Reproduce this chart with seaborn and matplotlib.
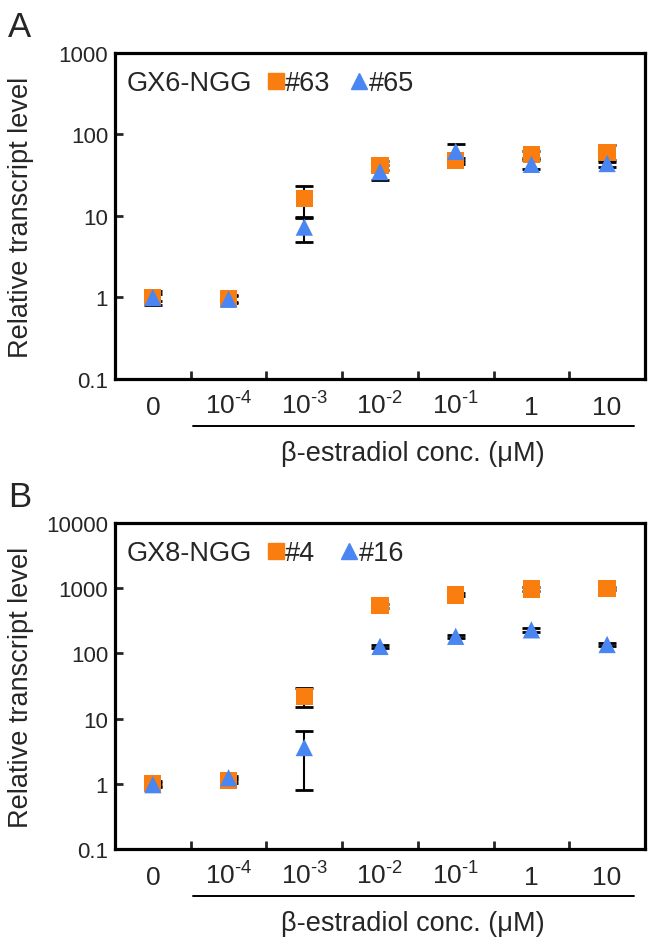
import numpy as np
import pandas as pd
import matplotlib
matplotlib.use("Agg")
import matplotlib.pyplot as plt
import matplotlib.transforms as mtransforms
from matplotlib.ticker import NullLocator
import seaborn as sns

# concentrations (uM) shown as categories
conc_labels = ["0", r"$\mathregular{10^{‐4}}$", r"$\mathregular{10^{‐3}}$",
               r"$\mathregular{10^{‐2}}$", r"$\mathregular{10^{‐1}}$", "1", "10"]

# panel A : GX6-NGG lines #63 and #65 (mean, sd)
gx6_63_mean = [1.0, 0.98, 16.5, 42, 48, 57, 60]
gx6_63_sd = [0.1, 0.1, 7.0, 5, 4, 6, 14]
gx6_65_mean = [1.0, 0.95, 7.3, 35, 62, 43, 44]
gx6_65_sd = [0.2, 0.1, 2.5, 7, 15, 5, 4]

# panel B : GX8-NGG lines #4 and #16 (mean, sd)
gx8_4_mean = [1.0, 1.12, 22, 540, 790, 970, 990]
gx8_4_sd = [0.1, 0.1, 7, 40, 40, 60, 50]
gx8_16_mean = [0.97, 1.24, 3.6, 128, 183, 230, 137]
gx8_16_sd = [0.05, 0.1, 2.8, 8, 10, 15, 5]

ORANGE = "#FA7D0F"
BLUE = "#4A86F2"

sns.set_style("ticks")
plt.rcParams["font.family"] = ["Liberation Sans", "DejaVu Sans"]
plt.rcParams["mathtext.fontset"] = "custom"
plt.rcParams["mathtext.rm"] = "Liberation Sans"
plt.rcParams["mathtext.it"] = "Liberation Sans:italic"
plt.rcParams["mathtext.bf"] = "Liberation Sans:bold"


def draw_panel(ax, construct, lines, means, sds, yticks):
    df = pd.DataFrame({
        "conc": conc_labels * 2,
        "line": [lines[0]] * 7 + [lines[1]] * 7,
        "mean": means[0] + means[1],
        "sd": sds[0] + sds[1],
    })
    for name, sub in df.groupby("line", sort=False):
        ax.errorbar(sub["conc"], sub["mean"], yerr=sub["sd"], fmt="none",
                    ecolor="black", elinewidth=1.5, capsize=6.5, capthick=2,
                    zorder=2)
    sns.scatterplot(data=df, x="conc", y="mean", hue="line", style="line",
                    palette={lines[0]: ORANGE, lines[1]: BLUE},
                    markers={lines[0]: "s", lines[1]: "^"},
                    s=155, linewidth=0, legend=False, zorder=3, ax=ax)

    ax.set_yscale("log")
    ax.set_ylim(yticks[0], yticks[-1])
    ax.set_yticks(yticks, [f"{t:g}" for t in yticks])
    ax.yaxis.set_minor_locator(NullLocator())
    ax.set_xlim(-0.5, 6.5)
    ax.set_xticks(range(7), conc_labels)
    ax.set_xticks(np.arange(0.5, 6, 1), minor=True)

    ax.tick_params(axis="x", which="major", length=0, pad=25, labelsize=19)
    ax.tick_params(axis="x", which="minor", direction="in", length=6,
                   width=2, bottom=True)
    ax.tick_params(axis="y", which="major", direction="in", length=6,
                   width=2, pad=5, labelsize=16)
    for t in ax.get_xticklabels():
        t.set_verticalalignment("baseline")

    for sp in ax.spines.values():
        sp.set_visible(True)
        sp.set_linewidth(2.3)
        sp.set_color("black")

    ax.set_ylabel("Relative transcript level", fontsize=19.5)
    ax.yaxis.set_label_coords(-0.177, 0.5)
    ax.yaxis.label.set_verticalalignment("center")
    ax.set_xlabel("β-estradiol conc. (μM)", fontsize=19.5)
    ax.xaxis.set_label_coords(0.562, -0.227)
    ax.xaxis.label.set_verticalalignment("center")

    # line under the non-zero concentrations
    trans = mtransforms.blended_transform_factory(ax.transData, ax.transAxes)
    ax.plot([0.53, 6.35], [-0.144, -0.144], color="black", lw=1.4,
            transform=trans, clip_on=False)

    # inline key
    ax.text(0.0226, 0.887, construct, transform=ax.transAxes,
            fontsize=19.5, va="baseline")
    ax.plot([0.3038], [0.913], marker="s", ms=12, color=ORANGE, ls="",
            transform=ax.transAxes, clip_on=False)
    ax.text(0.3208, 0.887, lines[0], transform=ax.transAxes,
            fontsize=19.5, va="baseline")
    x_tri = 0.4604 if len(lines[0]) > 2 else 0.4415
    ax.plot([x_tri], [0.915], marker="^", ms=12, color=BLUE, ls="",
            transform=ax.transAxes, clip_on=False)
    ax.text(x_tri + 0.0186, 0.887, lines[1], transform=ax.transAxes,
            fontsize=19.5, va="baseline")


fig = plt.figure(figsize=(6.53, 9.45), dpi=100)
ax_a = fig.add_axes([0.1761, 0.5979, 0.8116, 0.345])
ax_b = fig.add_axes([0.1761, 0.1005, 0.8116, 0.345])

draw_panel(ax_a, "GX6-NGG", ["#63", "#65"],
           [gx6_63_mean, gx6_65_mean], [gx6_63_sd, gx6_65_sd],
           [0.1, 1, 10, 100, 1000])
draw_panel(ax_b, "GX8-NGG", ["#4", "#16"],
           [gx8_4_mean, gx8_16_mean], [gx8_4_sd, gx8_16_sd],
           [0.1, 1, 10, 100, 1000, 10000])

fig.text(8 / 653, 1 - 37 / 945, "A", fontsize=25, va="baseline")
fig.text(8 / 653, 1 - 507 / 945, "B", fontsize=25, va="baseline")

fig.savefig("out.png", dpi=100)
